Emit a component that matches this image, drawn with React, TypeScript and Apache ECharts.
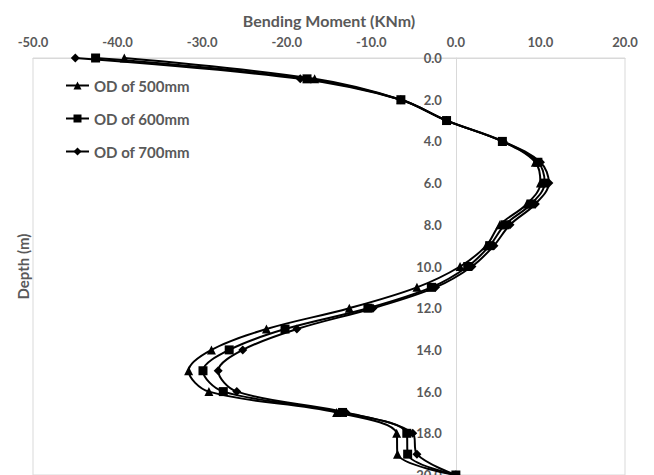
import React, { useEffect, useRef } from "react";
import * as echarts from "echarts";

const depths = [0, 1, 2, 3, 4, 5, 6, 7, 8, 9, 10, 11, 12, 13, 14, 15, 16, 17, 18, 19, 20];
const od500 = [-39.2, -16.7, -6.5, -1.1, 5.5, 9.4, 10.0, 8.4, 5.2, 3.6, 0.5, -4.6, -12.6, -22.4, -28.9, -31.6, -29.2, -14.1, -7.0, -6.9, 0.0];
const od600 = [-42.6, -17.6, -6.5, -1.1, 5.5, 9.7, 10.5, 8.9, 5.8, 4.0, 1.4, -2.9, -10.4, -20.2, -26.8, -29.9, -27.5, -13.4, -5.8, -5.7, 0.0];
const od700 = [-45.0, -18.4, -6.5, -1.1, 5.6, 10.0, 11.0, 9.4, 6.4, 4.5, 1.9, -2.4, -9.8, -18.8, -25.2, -28.1, -25.9, -13.0, -5.1, -4.6, 0.0];
const seriesNames = ["OD of 500mm", "OD of 600mm", "OD of 700mm"];
const xMin = -50;
const xMax = 20;

const FONT = "Lato, 'Open Sans', sans-serif";
const GRAY = "#595959";
const LINE = "#d9d9d9";

const W = 654;
const H = 475;
const GRID_LEFT = 33;
const GRID_RIGHT = 29;
const GRID_TOP = 58;

export default function App() {
  const ref = useRef<HTMLDivElement>(null);
  useEffect(() => {
    if (!ref.current) return;
    const chart = echarts.init(ref.current, null, { renderer: "svg" });
    const plotW = W - GRID_LEFT - GRID_RIGHT;
    // y axis sits at x = 0: offset it from the left edge of the grid
    const zeroOffset = (plotW * (0 - xMin)) / (xMax - xMin);
    const mk = (name: string, vals: number[], symbol: string, size: number) => ({
      name,
      type: "line",
      data: vals.map((v, i) => [v, depths[i]]),
      smooth: 0.35,
      symbol,
      symbolSize: size,
      showSymbol: true,
      lineStyle: { color: "#000", width: 2 },
      itemStyle: { color: "#000" },
      z: 3,
    });
    chart.setOption({
      animation: false,
      backgroundColor: "#fff",
      textStyle: { fontFamily: FONT },
      grid: {
        left: GRID_LEFT,
        right: GRID_RIGHT,
        top: GRID_TOP,
        bottom: 0,
        show: true,
        borderColor: LINE,
        borderWidth: 1,
        outerBoundsMode: "none",
        containLabel: false,
      },
      legend: {
        orient: "vertical",
        left: 65,
        top: 78,
        padding: 0,
        itemWidth: 23,
        itemHeight: 10,
        itemGap: 18,
        data: seriesNames,
        textStyle: {
          color: GRAY,
          fontSize: 15,
          fontWeight: "bold",
          fontFamily: FONT,
          lineHeight: 14,
        },
      },
      graphic: [
        {
          type: "text",
          x: 23,
          y: GRID_TOP + (H - GRID_TOP) / 2,
          rotation: Math.PI / 2,
          style: {
            text: "Depth (m)",
            fill: GRAY,
            font: `bold 15px ${FONT}`,
            align: "center",
            verticalAlign: "middle",
          },
        },
      ],
      xAxis: {
        type: "value",
        position: "top",
        min: xMin,
        max: xMax,
        interval: 10,
        name: "Bending Moment (KNm)",
        nameLocation: "middle",
        nameGap: 30,
        nameTextStyle: { color: GRAY, fontSize: 16, fontWeight: "bold", fontFamily: FONT },
        axisLine: { show: true, onZero: false, lineStyle: { color: LINE } },
        axisTick: { show: false },
        splitLine: { show: false },
        axisLabel: {
          color: GRAY,
          fontSize: 13,
          fontWeight: "bold",
          fontFamily: FONT,
          margin: 10,
          formatter: (v: number) => v.toFixed(1),
        },
      },
      yAxis: {
        type: "value",
        inverse: true,
        position: "left",
        offset: -zeroOffset,
        min: 0,
        max: 20,
        interval: 2,
        axisLine: { show: true, onZero: false, lineStyle: { color: LINE } },
        axisTick: { show: false },
        splitLine: { show: false },
        axisLabel: {
          color: GRAY,
          fontSize: 13,
          fontWeight: "bold",
          fontFamily: FONT,
          margin: 14,
          formatter: (v: number) => v.toFixed(1),
        },
      },
      series: [
        mk(seriesNames[0], od500, "triangle", 9),
        mk(seriesNames[1], od600, "rect", 9),
        mk(seriesNames[2], od700, "diamond", 9),
      ],
    });
    return () => chart.dispose();
  }, []);
  return (
    <div
      ref={ref}
      style={{ position: "fixed", left: 0, top: 0, width: W, height: H }}
    />
  );
}
